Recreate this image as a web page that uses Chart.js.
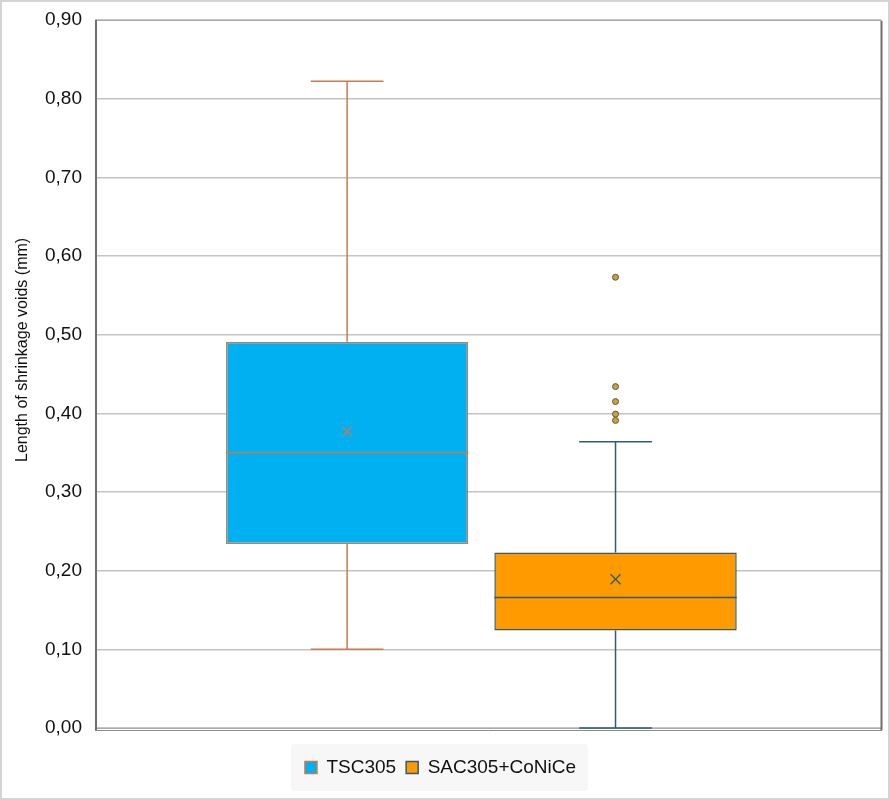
<!DOCTYPE html>
<html>
<head>
<meta charset="utf-8">
<script src="https://cdn.jsdelivr.net/npm/chart.js@4.4.1/dist/chart.umd.min.js"></script>
<style>
html,body{margin:0;padding:0;background:#fff;}
#wrap{width:890px;height:800px;}
</style>
</head>
<body>
<div id="wrap"><canvas id="c" width="890" height="800"></canvas></div>
<script>
// ---- data ----
const categories = ['TSC305', 'SAC305+CoNiCe'];
const minValues = [0.100, 0.000];
const q1Values = [0.234, 0.124];
const medianValues = [0.350, 0.166];
const q3Values = [0.491, 0.223];
const maxValues = [0.822, 0.364];
const meanValues = [0.377, 0.189];
const outliersTSC305 = [];
const outliersSAC305 = [0.573, 0.434, 0.415, 0.399, 0.391];
const yTicks = [0, 0.1, 0.2, 0.3, 0.4, 0.5, 0.6, 0.7, 0.8, 0.9];
const yTitle = 'Length of shrinkage voids (mm)';

// ---- styles ----
const fillColors = ['#00B0F0', '#FF9A00'];
const lineColors = ['#C87A50', '#2E5E6E'];
const outlierFill = '#C9A23A';
const outlierStroke = '#5C5A3A';
const FONT = '"Liberation Sans", Arial, sans-serif';

const outlierSets = [outliersTSC305, outliersSAC305];

const pagePlugin = {
  id: 'page',
  beforeDraw(chart) {
    const ctx = chart.ctx;
    ctx.save();
    ctx.fillStyle = '#ffffff';
    ctx.fillRect(0, 0, chart.width, chart.height);
    ctx.strokeStyle = '#d4d4d4';
    ctx.lineWidth = 2;
    ctx.strokeRect(1, 1, chart.width - 2, chart.height - 2);
    // legend background
    const lg = chart.legend;
    if (lg && lg.legendHitBoxes && lg.legendHitBoxes.length) {
      let l = Infinity, r = -Infinity, t = Infinity, b = -Infinity;
      lg.legendHitBoxes.forEach(h => {
        l = Math.min(l, h.left); r = Math.max(r, h.left + h.width);
        t = Math.min(t, h.top); b = Math.max(b, h.top + h.height);
      });
      const x0 = l - 14, x1 = r + 12, y0 = t - 14, y1 = b + 14;
      ctx.fillStyle = '#f7f7f7';
      ctx.beginPath();
      if (ctx.roundRect) ctx.roundRect(x0, y0, x1 - x0, y1 - y0, 4); else ctx.rect(x0, y0, x1 - x0, y1 - y0);
      ctx.fill();
    }
    // y axis title
    const a = chart.chartArea;
    ctx.translate(23, a.top + (a.bottom - a.top) * 0.466);
    ctx.rotate(-Math.PI / 2);
    ctx.fillStyle = '#111';
    ctx.font = '16px ' + FONT;
    ctx.textAlign = 'center';
    ctx.textBaseline = 'middle';
    ctx.fillText(yTitle, 0, 0);
    ctx.restore();
  },
  beforeDatasetsDraw(chart) {
    const ctx = chart.ctx, a = chart.chartArea;
    ctx.save();
    ctx.strokeStyle = '#ababab';
    ctx.lineWidth = 1;
    ctx.strokeRect(a.left + 0.5, a.top + 0.5, a.right - a.left, a.bottom - a.top);
    ctx.strokeStyle = '#6e6e6e';
    ctx.lineWidth = 2;
    ctx.beginPath();
    ctx.moveTo(a.left + 1, a.top); ctx.lineTo(a.left + 1, a.bottom + 2);
    ctx.moveTo(a.right + 0.5, a.top + 1); ctx.lineTo(a.right + 0.5, a.bottom + 2);
    ctx.stroke();
    ctx.strokeStyle = '#8c8c8c';
    ctx.lineWidth = 1;
    ctx.beginPath();
    ctx.moveTo(a.left, a.bottom + 2.5); ctx.lineTo(a.right + 1, a.bottom + 2.5);
    ctx.stroke();
    ctx.restore();
  }
};

const boxPlugin = {
  id: 'boxDetails',
  afterDatasetsDraw(chart) {
    const ctx = chart.ctx, ys = chart.scales.y;
    const pY = v => ys.getPixelForValue(v);
    const line = (x0, y0, x1, y1) => { ctx.beginPath(); ctx.moveTo(x0, y0); ctx.lineTo(x1, y1); ctx.stroke(); };
    chart.data.datasets.forEach((ds, i) => {
      const bar = chart.getDatasetMeta(i).data[0];
      if (!bar) return;
      const cx = bar.x, w = bar.width, cap = w * 0.15;
      ctx.save();
      ctx.strokeStyle = lineColors[i];
      ctx.lineWidth = 1.5;
      // whiskers
      line(cx, pY(q3Values[i]), cx, pY(maxValues[i]));
      line(cx - cap, pY(maxValues[i]), cx + cap, pY(maxValues[i]));
      line(cx, pY(q1Values[i]), cx, pY(minValues[i]));
      line(cx - cap, pY(minValues[i]), cx + cap, pY(minValues[i]));
      // median
      line(cx - w / 2, pY(medianValues[i]), cx + w / 2, pY(medianValues[i]));
      // mean marker
      const m = pY(meanValues[i]), s = 5;
      ctx.lineWidth = 1.3;
      line(cx - s, m - s, cx + s, m + s);
      line(cx - s, m + s, cx + s, m - s);
      // outliers
      ctx.fillStyle = outlierFill;
      ctx.strokeStyle = outlierStroke;
      ctx.lineWidth = 1;
      outlierSets[i].forEach(v => {
        ctx.beginPath();
        ctx.arc(cx, pY(v), 3, 0, Math.PI * 2);
        ctx.fill();
        ctx.stroke();
      });
      ctx.restore();
    });
  }
};

new Chart(document.getElementById('c'), {
  type: 'bar',
  data: {
    datasets: categories.map((name, i) => ({
      label: name,
      data: [{ x: 0, y: [q1Values[i], q3Values[i]] }],
      backgroundColor: fillColors[i],
      borderColor: lineColors[i],
      borderWidth: 1.5,
      borderSkipped: false,
      categoryPercentage: 0.683,
      barPercentage: 0.903
    }))
  },
  options: {
    responsive: false,
    animation: false,
    devicePixelRatio: 1,
    layout: { padding: { top: 20, right: 9, bottom: 13, left: 0 } },
    plugins: {
      tooltip: { enabled: false },
      legend: {
        position: 'bottom',
        labels: {
          boxWidth: 12,
          boxHeight: 12,
          padding: 10,
          color: '#111',
          font: { family: FONT, size: 19 }
        }
      }
    },
    scales: {
      x: {
        type: 'linear',
        display: true,
        min: -0.483,
        max: 0.517,
        afterBuildTicks: s => { s.ticks = [{ value: 0 }]; },
        grid: { display: false },
        border: { display: false },
        ticks: { display: false },
        afterFit: s => { s.height = 20; }
      },
      y: {
        min: 0,
        max: 0.9,
        afterBuildTicks: s => { s.ticks = yTicks.map(v => ({ value: v })); },
        afterFit: s => { s.width = 95; s.paddingTop = 0; s.paddingBottom = 0; },
        ticks: {
          color: '#111',
          padding: 13,
          font: { family: FONT, size: 19 },
          callback: v => Number(v).toFixed(2).replace('.', ',')
        },
        grid: { color: '#c4c4c4', lineWidth: 1.5, drawTicks: false },
        border: { display: false },
        title: { display: false }
      }
    }
  },
  plugins: [pagePlugin, boxPlugin]
});
</script>
</body>
</html>
